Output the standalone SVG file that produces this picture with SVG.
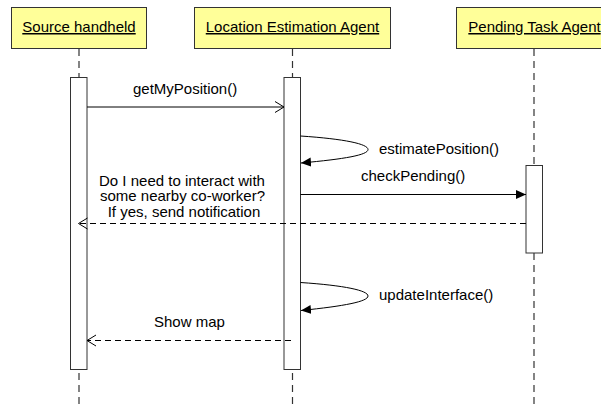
<svg xmlns="http://www.w3.org/2000/svg" width="601" height="405" viewBox="0 0 601 405">
<style>
.hdr{fill:#ffff99;stroke:#333;stroke-width:1}
.ht{font-family:"Liberation Sans",Arial,sans-serif;font-size:15px;fill:#000;text-anchor:middle;text-decoration:underline}
.life{stroke:#333;stroke-width:1.2;stroke-dasharray:7,5;fill:none}
.bar{fill:#fff;stroke:#333;stroke-width:1}
.msg{stroke:#000;stroke-width:1;fill:none}
.dash{stroke-dasharray:6,4}
.lbl{font-family:"Liberation Sans",Arial,sans-serif;font-size:15px;fill:#000}
</style>
<defs>
<marker id="open" markerUnits="userSpaceOnUse" markerWidth="12" markerHeight="14" refX="10" refY="7" orient="auto" viewBox="0 0 12 14">
<path d="M1,1.5 L10,7 L1,12.5" fill="none" stroke="#000" stroke-width="1"/>
</marker>
<marker id="filled" markerUnits="userSpaceOnUse" markerWidth="11" markerHeight="10" refX="10" refY="5" orient="auto" viewBox="0 0 11 10">
<path d="M0,0.5 L10,5 L0,9.5 Z" fill="#000"/>
</marker>
</defs>
<g id="source-handheld">
<rect class="hdr" x="11.5" y="7.5" width="135" height="41"/>
<text class="ht" x="79" y="32">Source handheld</text>
<line class="life" x1="79" y1="49" x2="79" y2="405"/>
<rect class="bar" x="70.5" y="77.5" width="16.5" height="292"/>
</g>
<g id="location-estimation-agent">
<rect class="hdr" x="194.5" y="7.5" width="196" height="41"/>
<text class="ht" x="292.5" y="32">Location Estimation Agent</text>
<line class="life" x1="292.5" y1="49" x2="292.5" y2="405"/>
<rect class="bar" x="284" y="77.5" width="16.5" height="292"/>
</g>
<g id="pending-task-agent">
<rect class="hdr" x="456.5" y="7.5" width="160" height="41"/>
<text class="ht" x="534.5" y="32">Pending Task Agent</text>
<line class="life" x1="534" y1="49" x2="534" y2="405"/>
<rect class="bar" x="526" y="165.5" width="16.5" height="87.5"/>
</g>
<g id="connectors">
<line class="msg" x1="87" y1="107" x2="284" y2="107" marker-end="url(#open)"/>
<text class="lbl" x="133" y="94">getMyPosition()</text>
<path class="msg" d="M300.5,136 C345,139 368,144 368,149.5 C368,155 345,159 301,163" marker-end="url(#filled)"/>
<text class="lbl" x="379" y="154">estimatePosition()</text>
<line class="msg" x1="300.5" y1="194.5" x2="526" y2="194.5" marker-end="url(#filled)"/>
<text class="lbl" x="361" y="181">checkPending()</text>
<line class="msg dash" x1="526" y1="223.5" x2="78.5" y2="223.5" marker-end="url(#open)"/>
<text class="lbl" text-anchor="middle" x="182" y="185.5">Do I need to interact with</text>
<text class="lbl" text-anchor="middle" x="182.5" y="201">some nearby co-worker?</text>
<text class="lbl" text-anchor="middle" x="184" y="216.5">If yes, send notification</text>
<path class="msg" d="M300.5,282.5 C345,285.5 368,290.5 368,296 C368,301.5 345,306 301,310.5" marker-end="url(#filled)"/>
<text class="lbl" x="379" y="300">updateInterface()</text>
<line class="msg dash" x1="291" y1="340.5" x2="87" y2="340.5" marker-end="url(#open)"/>
<text class="lbl" x="154" y="327">Show map</text>
</g>
</svg>
